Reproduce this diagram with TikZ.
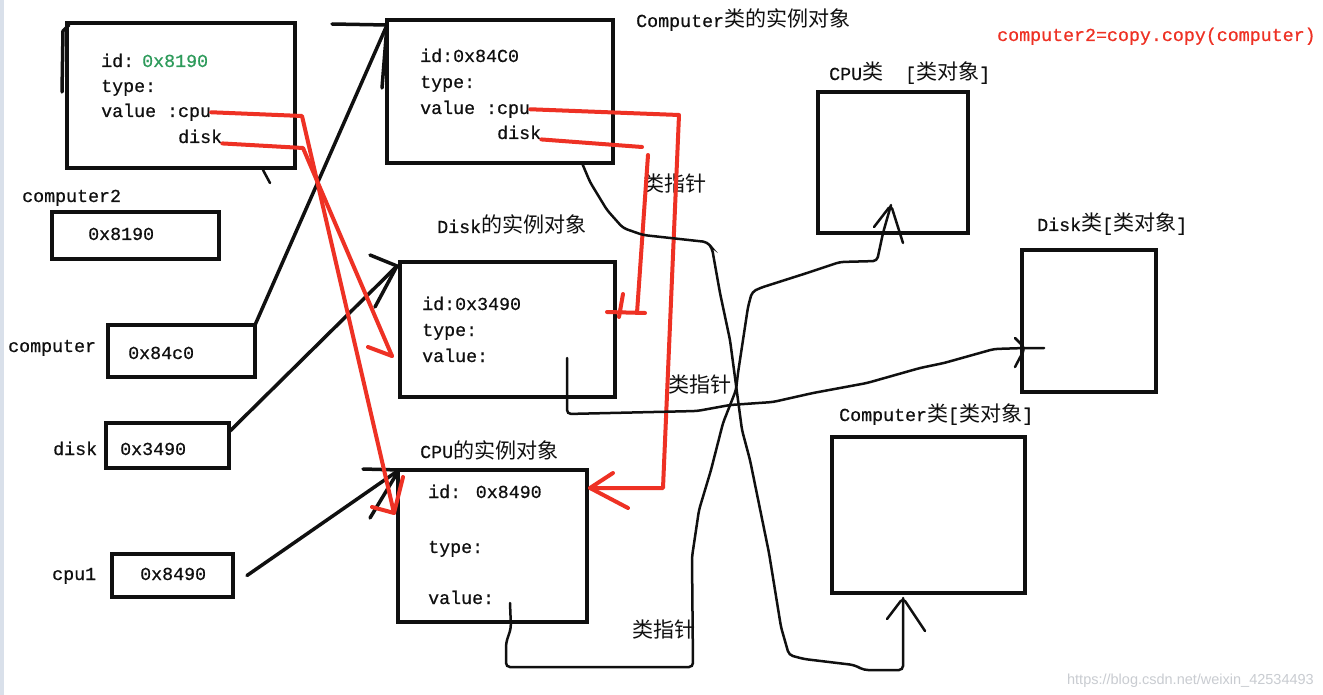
\documentclass[tikz,border=0pt]{standalone}
\usepackage{fontspec}
\newfontfamily\codefont{Liberation Mono}[FakeBold=0.6]
\newfontfamily\cjkfont{Noto Sans CJK SC}[Scale=1.15]
\newfontfamily\markfont{Liberation Sans}
\newcommand\zh[1]{{\cjkfont #1}}
\definecolor{cpink}{HTML}{101010}
\definecolor{cpred}{HTML}{EE3124}
\definecolor{cpgreen}{HTML}{2E9B5B}
\definecolor{cpgrey}{HTML}{C9CCD1}
\definecolor{cpedge}{HTML}{D9E0EA}
\tikzset{
  cp text/.style={font=\codefont\fontsize{18.3}{22}\selectfont, text=cpink,
    inner sep=0pt, anchor=base west},
  cp box/.style={draw=cpink, line width=4.5pt, inner sep=0pt, outer sep=0pt,
    anchor=north west},
  cp link/.style={draw=cpink, line width=3.5pt, line cap=round, line join=round},
  cp ref/.style={draw=cpred, line width=4pt, line cap=round, line join=round},
  cp cls/.style={draw=cpink, line width=2.5pt, line cap=round, rounded corners=4pt}
}

\begin{document}
\begin{tikzpicture}[x=1pt, y=-1pt]
  \fill[white] (0,0) rectangle (1323,695);
  \fill[cpedge] (0,0) rectangle (4,695);
  \useasboundingbox (0,0) rectangle (1323,695);

  % instance objects
  \node[cp box, minimum width=228pt, minimum height=145pt] (objB) at (67,23) {};
  \node[cp box, minimum width=226pt, minimum height=143pt] (objA) at (387,20) {};
  \node[cp box, minimum width=215pt, minimum height=135pt] (diskObj) at (400,262) {};
  \node[cp box, minimum width=189pt, minimum height=152pt] (cpuObj) at (398,470) {};
  % variables
  \node[cp box, minimum width=167pt, minimum height=47pt] (varC2) at (52,212) {};
  \node[cp box, minimum width=147pt, minimum height=52pt] (varComp) at (108,325) {};
  \node[cp box, minimum width=123pt, minimum height=45pt] (varDisk) at (106,423) {};
  \node[cp box, minimum width=121pt, minimum height=43pt] (varCpu) at (112,554) {};
  % class objects
  \node[cp box, minimum width=150pt, minimum height=141pt] (cpuCls) at (818,92) {};
  \node[cp box, minimum width=134pt, minimum height=142pt] (diskCls) at (1022,250) {};
  \node[cp box, minimum width=193pt, minimum height=156pt] (compCls) at (832,437) {};

  % texts
  \node[cp text] (idB) at (101,67) {id:};
  \node[cp text, text=cpgreen] (idBval) at (142,67) {0x8190};
  \node[cp text] (typeB) at (101,92) {type:};
  \node[cp text] (cpuB) at (101,117) {value :cpu};
  \node[cp text] (diskB) at (178,143) {disk};
  \node[cp text] (idA) at (420,62) {id:0x84C0};
  \node[cp text] (typeA) at (420,88) {type:};
  \node[cp text] (cpuA) at (420,114) {value :cpu};
  \node[cp text] (diskA) at (497,139) {disk};
  \node[cp text] (titleA) at (636,27) {Computer\zh{类的实例对象}};
  \node[cp text, text=cpred] (copyNote) at (997,41) {computer2=copy.copy(computer)};
  \node[cp text] (cpuClsT) at (829,80) {CPU\zh{类}\ \ [\zh{类对象}]};
  \node[cp text] (diskClsT) at (1037,231) {Disk\zh{类}[\zh{类对象}]};
  \node[cp text] (compClsT) at (839,421) {Computer\zh{类}[\zh{类对象}]};
  \node[cp text] (diskObjT) at (437,233) {Disk\zh{的实例对象}};
  \node[cp text] (idD) at (422,310) {id:0x3490};
  \node[cp text] (typeD) at (422,336) {type:};
  \node[cp text] (valD) at (422,362) {value:};
  \node[cp text] (cpuObjT) at (420,458) {CPU\zh{的实例对象}};
  \node[cp text] (idC) at (428,498) {id: 0x8490};
  \node[cp text] (typeC) at (428,553) {type:};
  \node[cp text] (valC) at (428,604) {value:};
  \node[cp text] (c2Name) at (22,202) {computer2};
  \node[cp text] (c2Val) at (88,240) {0x8190};
  \node[cp text] (compName) at (8,352) {computer};
  \node[cp text] (compVal) at (128,359) {0x84c0};
  \node[cp text] (diskName) at (53,455) {disk};
  \node[cp text] (diskVal) at (120,455) {0x3490};
  \node[cp text] (cpuName) at (52,580) {cpu1};
  \node[cp text] (cpuVal) at (140,580) {0x8490};
  \node[cp text] (clsPtr1) at (643,192) {\zh{类指针}};
  \node[cp text] (clsPtr2) at (668,392) {\zh{类指针}};
  \node[cp text] (clsPtr3) at (632,637) {\zh{类指针}};
  \node[font=\markfont\fontsize{14.5}{16}\selectfont, text=cpgrey, inner sep=0pt,
    anchor=base east] (mark) at (1314,684) {https://blog.csdn.net/weixin\_42534493};

  % arrow tips
  \coordinate (tipCopy) at (69,25);
  \coordinate (tipComp) at (387,25);
  \coordinate (tipDisk) at (397,266);
  \coordinate (tipCpu) at (399,470);
  \coordinate (tipRc) at (394,513);
  \coordinate (tipRd) at (392,356);
  \coordinate (tipRa) at (590,488);
  \coordinate (tipRb) at (607,312);
  \coordinate (tipCc) at (891,205);
  \coordinate (tipDc) at (1025,348);
  \coordinate (tipMc) at (903,598);
  \coordinate (dv) at (567,358);
  \coordinate (cv) at (510,603);

  % variables -> objects
  \draw[cp link] (62,92) -- (63,31) -- (tipCopy);
  \draw[cp link, line width=2.5pt] (263,170) -- (270,183);
  \draw[cp link] (varComp.north east) -- (tipComp);
  \draw[cp link] (tipComp) ++(-55,-1) -- (tipComp) -- ++(-5,63);
  \draw[cp link] ([yshift=-9pt]varDisk.north east) -- (tipDisk);
  \draw[cp link] (tipDisk) ++(-27,-11) -- (tipDisk) -- ++(-22,41);
  \draw[cp link] ([xshift=14pt]varCpu.east) -- (tipCpu);
  \draw[cp link] (tipCpu) ++(-36,-1) -- (tipCpu) -- ++(-29,48);

  % copied references
  \draw[cp ref] (cpuB.east) -- (302,116) -- (tipRc);
  \draw[cp ref] (tipRc) ++(-22,-6) -- (tipRc) -- ++(9,-36);
  \draw[cp ref] (diskB.south east) -- (303,148) -- (tipRd);
  \draw[cp ref] (tipRd) -- ++(-24,-9);
  \draw[cp ref] (cpuA.east) -- (679,115) -- (663,488) -- (tipRa);
  \draw[cp ref] (tipRa) ++(23,-15) -- (tipRa) -- ++(38,20);
  \draw[cp ref] (diskA.south east) -- (642,147) (648,155) -- (637,313);
  \draw[cp ref] (tipRb) -- (645,313) (623,294) -- (619,317);

  % class pointers
  \draw[cp cls] ([xshift=82pt]objA.south) -- (590,182) -- (607,210) -- (623,228)
    -- (643,235) -- (707,242) -- (712,248) -- (720,293) -- (730,340) -- (742,430)
    -- (750,460) -- (769,553) -- (781,627) -- (789,655) -- (804,659) -- (854,665)
    -- (864,670) -- (903,670) -- (tipMc);
  \draw[cp cls] (tipMc) ++(-16,21) -- (tipMc) -- ++(22,33);
  \draw[cp cls] (dv) -- (567,414) -- (697,411) -- (730,405) -- (773,402) -- (813,393)
    -- (867,383) -- (920,368) -- (944,363) -- (994,349) -- (tipDc) -- (1044,348);
  \draw[cp cls] (tipDc) ++(-10,-10) -- (tipDc) -- ++(-10,19);
  \draw[cp cls] (cv) -- (511,628) -- (506,643) -- (506,667) -- (693,667) -- (692,557)
    -- (699,510) -- (711,470) -- (723,423) -- (736,390) -- (738,373) -- (748,307)
    -- (752,292) -- (760,288) -- (807,273) -- (840,262) -- (877,261) -- (880,247)
    -- (883,233) -- (tipCc);
  \draw[cp cls] (tipCc) ++(-17,22) -- (tipCc) -- ++(12,38);
\end{tikzpicture}
\end{document}
